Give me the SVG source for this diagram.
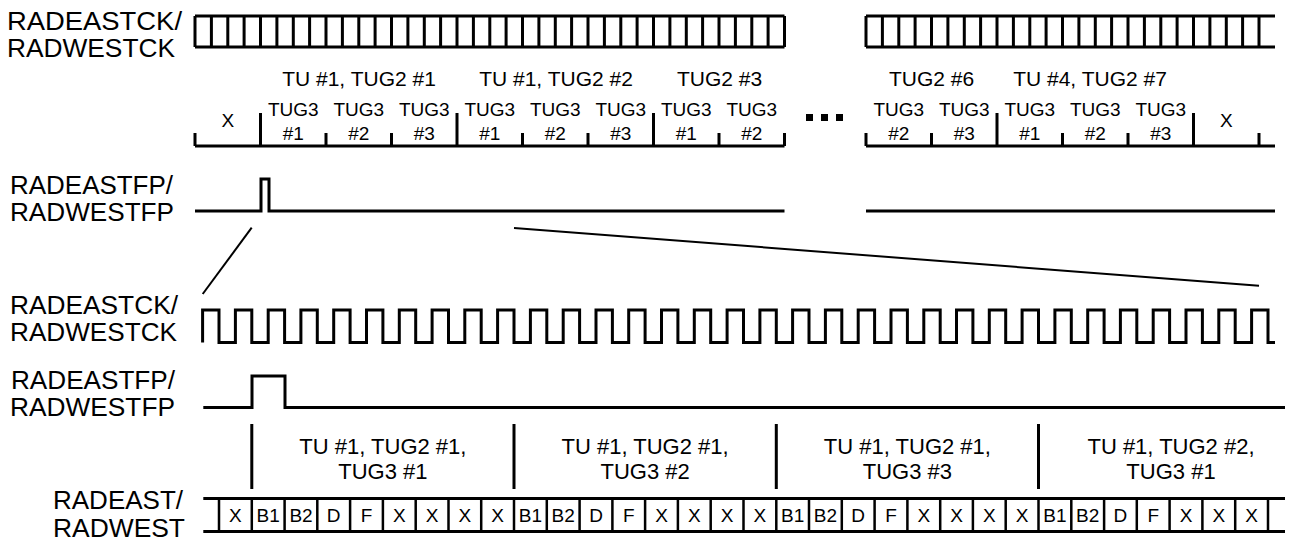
<svg xmlns="http://www.w3.org/2000/svg" width="1291" height="542" viewBox="0 0 1291 542">
<style>
  .w { fill: none; stroke: #000; stroke-width: 3; stroke-linejoin: miter; }
  .thin { fill: none; stroke: #000; stroke-width: 2; }
  .div { fill: none; stroke: #000; stroke-width: 2.5; }
  text { font-family: "Liberation Sans", Arial, sans-serif; fill: #000; }
  .lbl { font-size: 26px; }
  .hdr { font-size: 21px; text-anchor: middle; }
  .tug { font-size: 19px; text-anchor: middle; }
  .sec { font-size: 22px; text-anchor: middle; }
  .cell { font-size: 19px; text-anchor: middle; }
</style>
<rect width="1291" height="542" fill="#fff"/>

<g id="signal-labels">
  <text class="lbl" x="7" y="30" textLength="175" lengthAdjust="spacingAndGlyphs">RADEASTCK/</text>
  <text class="lbl" x="7" y="57" textLength="168" lengthAdjust="spacingAndGlyphs">RADWESTCK</text>
  <text class="lbl" x="10" y="194" textLength="163" lengthAdjust="spacingAndGlyphs">RADEASTFP/</text>
  <text class="lbl" x="10" y="221" textLength="164" lengthAdjust="spacingAndGlyphs">RADWESTFP</text>
  <text class="lbl" x="10" y="314" textLength="168" lengthAdjust="spacingAndGlyphs">RADEASTCK/</text>
  <text class="lbl" x="10" y="341" textLength="167" lengthAdjust="spacingAndGlyphs">RADWESTCK</text>
  <text class="lbl" x="11" y="389" textLength="164" lengthAdjust="spacingAndGlyphs">RADEASTFP/</text>
  <text class="lbl" x="10" y="416" textLength="165" lengthAdjust="spacingAndGlyphs">RADWESTFP</text>
  <text class="lbl" x="53" y="509" textLength="130" lengthAdjust="spacingAndGlyphs">RADEAST/</text>
  <text class="lbl" x="53" y="537" textLength="132" lengthAdjust="spacingAndGlyphs">RADWEST</text>
</g>

<g id="top-clock">
  <path class="w" d="M195 16 H784.5 M195 47 H784.5
    M195 16 V47 M211.4 16 V47 M227.8 16 V47 M244.1 16 V47 M260.5 16 V47 M276.9 16 V47 M293.3 16 V47 M309.6 16 V47 M326 16 V47
    M342.4 16 V47 M358.8 16 V47 M375.1 16 V47 M391.5 16 V47 M407.9 16 V47 M424.3 16 V47 M440.6 16 V47 M457 16 V47
    M473.4 16 V47 M489.8 16 V47 M506.1 16 V47 M522.5 16 V47 M538.9 16 V47 M555.3 16 V47 M571.6 16 V47 M588 16 V47
    M604.4 16 V47 M620.8 16 V47 M637.1 16 V47 M653.5 16 V47 M669.9 16 V47 M686.3 16 V47 M702.6 16 V47 M719 16 V47
    M735.4 16 V47 M751.8 16 V47 M768.1 16 V47 M784.5 16 V47"/>
  <path class="w" d="M866 16 H1275 M866 47 H1275
    M866 16 V47 M882.4 16 V47 M898.8 16 V47 M915.1 16 V47 M931.5 16 V47 M947.9 16 V47 M964.3 16 V47 M980.6 16 V47 M997 16 V47
    M1013.4 16 V47 M1029.8 16 V47 M1046.1 16 V47 M1062.5 16 V47 M1078.9 16 V47 M1095.3 16 V47 M1111.6 16 V47 M1128 16 V47
    M1144.4 16 V47 M1160.8 16 V47 M1177.1 16 V47 M1193.5 16 V47 M1209.9 16 V47 M1226.3 16 V47 M1242.6 16 V47 M1259 16 V47"/>
</g>

<g id="tu-headers">
  <text class="hdr" x="359" y="86">TU #1, TUG2 #1</text>
  <text class="hdr" x="556" y="86">TU #1, TUG2 #2</text>
  <text class="hdr" x="719.5" y="86">TUG2 #3</text>
  <text class="hdr" x="931.5" y="86">TUG2 #6</text>
  <text class="hdr" x="1090" y="86">TU #4, TUG2 #7</text>
</g>

<g id="tug3-axis">
  <path class="w" d="M195 146 H784.5 M866 146 H1275
    M195 133 V146 M326 133 V146 M391.5 133 V146 M522.5 133 V146 M588 133 V146 M719 133 V146 M784.5 133 V146
    M260.5 113 V146 M457 113 V146 M653.5 113 V146
    M866 133 V146 M931.5 133 V146 M1062.5 133 V146 M1128 133 V146 M1259 133 V146
    M997 113 V146 M1193.5 113 V146"/>
  <text class="tug" x="227.75" y="127">X</text>
  <text class="tug" x="293.25" y="116">TUG3</text><text class="tug" x="293.25" y="140">#1</text>
  <text class="tug" x="358.75" y="116">TUG3</text><text class="tug" x="358.75" y="140">#2</text>
  <text class="tug" x="424.25" y="116">TUG3</text><text class="tug" x="424.25" y="140">#3</text>
  <text class="tug" x="489.75" y="116">TUG3</text><text class="tug" x="489.75" y="140">#1</text>
  <text class="tug" x="555.25" y="116">TUG3</text><text class="tug" x="555.25" y="140">#2</text>
  <text class="tug" x="620.75" y="116">TUG3</text><text class="tug" x="620.75" y="140">#3</text>
  <text class="tug" x="686.25" y="116">TUG3</text><text class="tug" x="686.25" y="140">#1</text>
  <text class="tug" x="751.75" y="116">TUG3</text><text class="tug" x="751.75" y="140">#2</text>
  <text class="tug" x="898.75" y="116">TUG3</text><text class="tug" x="898.75" y="140">#2</text>
  <text class="tug" x="964.25" y="116">TUG3</text><text class="tug" x="964.25" y="140">#3</text>
  <text class="tug" x="1029.75" y="116">TUG3</text><text class="tug" x="1029.75" y="140">#1</text>
  <text class="tug" x="1095.25" y="116">TUG3</text><text class="tug" x="1095.25" y="140">#2</text>
  <text class="tug" x="1160.75" y="116">TUG3</text><text class="tug" x="1160.75" y="140">#3</text>
  <text class="tug" x="1226.25" y="127">X</text>
</g>

<g id="ellipsis">
  <rect x="806" y="114" width="7" height="7"/>
  <rect x="821" y="114" width="7" height="7"/>
  <rect x="836" y="114" width="7" height="7"/>
</g>

<g id="top-fp">
  <path class="w" d="M195 211 H261 V179 H269 V211 H784.5 M866 211 H1275"/>
</g>

<g id="connectors">
  <line class="thin" x1="251.7" y1="227.7" x2="202.7" y2="294"/>
  <line class="thin" x1="514" y1="228" x2="1259" y2="285.7"/>
</g>

<g id="bottom-clock">
  <path class="w" d="M202.6 342.5 V310 H219 V342.5 H235.4 V310 H251.8 V342.5 H268.2 V310 H284.6 V342.5 H300.9 V310 H317.3 V342.5 H333.7 V310 H350.1 V342.5 H366.5 V310 H382.9 V342.5 H399.3 V310 H415.7 V342.5 H432.1 V310 H448.5 V342.5 H464.8 V310 H481.2 V342.5 H497.6 V310 H514 V342.5 H530.4 V310 H546.8 V342.5 H563.2 V310 H579.6 V342.5 H596 V310 H612.4 V342.5 H628.7 V310 H645.1 V342.5 H661.5 V310 H677.9 V342.5 H694.3 V310 H710.7 V342.5 H727.1 V310 H743.5 V342.5 H759.9 V310 H776.3 V342.5 H792.6 V310 H809 V342.5 H825.4 V310 H841.8 V342.5 H858.2 V310 H874.6 V342.5 H891 V310 H907.4 V342.5 H923.8 V310 H940.2 V342.5 H956.5 V310 H972.9 V342.5 H989.3 V310 H1005.7 V342.5 H1022.1 V310 H1038.5 V342.5 H1054.9 V310 H1071.3 V342.5 H1087.7 V310 H1104.1 V342.5 H1120.4 V310 H1136.8 V342.5 H1153.2 V310 H1169.6 V342.5 H1186 V310 H1202.4 V342.5 H1218.8 V310 H1235.2 V342.5 H1251.6 V310 H1268 V342.5 H1275"/>
</g>

<g id="bottom-fp">
  <path class="w" d="M203.3 407.5 H252 V376 H285 V407.5 H1285"/>
</g>

<g id="sections">
  <path class="w" d="M251.8 424 V489 M514 424 V489 M776.3 424 V489 M1038.5 424 V489"/>
  <text class="sec" x="382.9" y="454">TU #1, TUG2 #1,</text>
  <text class="sec" x="382.9" y="479">TUG3 #1</text>
  <text class="sec" x="645.1" y="454">TU #1, TUG2 #1,</text>
  <text class="sec" x="645.1" y="479">TUG3 #2</text>
  <text class="sec" x="907.4" y="454">TU #1, TUG2 #1,</text>
  <text class="sec" x="907.4" y="479">TUG3 #3</text>
  <text class="sec" x="1171" y="454">TU #1, TUG2 #2,</text>
  <text class="sec" x="1171" y="479">TUG3 #1</text>
</g>

<g id="data-row">
  <path class="w" d="M203.3 498.5 H1285 M203.3 531.5 H1285"/>
  <path class="div" d="M219 498.5 V531.5 M251.8 498.5 V531.5 M284.6 498.5 V531.5 M317.3 498.5 V531.5 M350.1 498.5 V531.5 M382.9 498.5 V531.5 M415.7 498.5 V531.5 M448.5 498.5 V531.5 M481.2 498.5 V531.5 M514 498.5 V531.5 M546.8 498.5 V531.5 M579.6 498.5 V531.5 M612.4 498.5 V531.5 M645.1 498.5 V531.5 M677.9 498.5 V531.5 M710.7 498.5 V531.5 M743.5 498.5 V531.5 M776.3 498.5 V531.5 M809 498.5 V531.5 M841.8 498.5 V531.5 M874.6 498.5 V531.5 M907.4 498.5 V531.5 M940.2 498.5 V531.5 M972.9 498.5 V531.5 M1005.7 498.5 V531.5 M1038.5 498.5 V531.5 M1071.3 498.5 V531.5 M1104.1 498.5 V531.5 M1136.8 498.5 V531.5 M1169.6 498.5 V531.5 M1202.4 498.5 V531.5 M1235.2 498.5 V531.5 M1268 498.5 V531.5"/>
  <text class="cell" x="235.4" y="522">X</text>
  <text class="cell" x="268.2" y="522">B1</text>
  <text class="cell" x="301" y="522">B2</text>
  <text class="cell" x="333.7" y="522">D</text>
  <text class="cell" x="366.5" y="522">F</text>
  <text class="cell" x="399.3" y="522">X</text>
  <text class="cell" x="432.1" y="522">X</text>
  <text class="cell" x="464.8" y="522">X</text>
  <text class="cell" x="497.6" y="522">X</text>
  <text class="cell" x="530.4" y="522">B1</text>
  <text class="cell" x="563.2" y="522">B2</text>
  <text class="cell" x="596" y="522">D</text>
  <text class="cell" x="628.7" y="522">F</text>
  <text class="cell" x="661.5" y="522">X</text>
  <text class="cell" x="694.3" y="522">X</text>
  <text class="cell" x="727.1" y="522">X</text>
  <text class="cell" x="759.9" y="522">X</text>
  <text class="cell" x="792.6" y="522">B1</text>
  <text class="cell" x="825.4" y="522">B2</text>
  <text class="cell" x="858.2" y="522">D</text>
  <text class="cell" x="891" y="522">F</text>
  <text class="cell" x="923.8" y="522">X</text>
  <text class="cell" x="956.5" y="522">X</text>
  <text class="cell" x="989.3" y="522">X</text>
  <text class="cell" x="1022.1" y="522">X</text>
  <text class="cell" x="1054.9" y="522">B1</text>
  <text class="cell" x="1087.7" y="522">B2</text>
  <text class="cell" x="1120.4" y="522">D</text>
  <text class="cell" x="1153.2" y="522">F</text>
  <text class="cell" x="1186" y="522">X</text>
  <text class="cell" x="1218.8" y="522">X</text>
  <text class="cell" x="1251.6" y="522">X</text>
</g>
</svg>
